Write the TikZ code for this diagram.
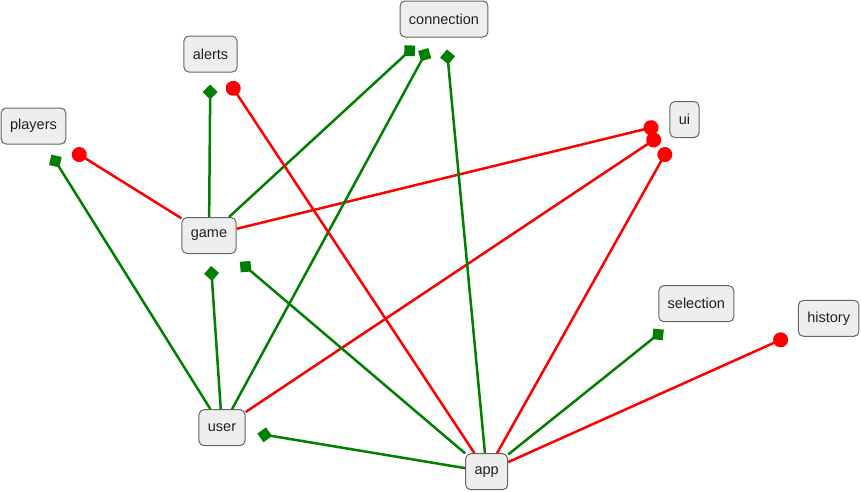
\documentclass[tikz,border=0pt]{standalone}
\usepackage{fontspec}
\setmainfont{Liberation Sans}
\usetikzlibrary{arrows.meta}
\definecolor{edgegreen}{HTML}{008000}
\definecolor{edgered}{HTML}{FF0000}
\definecolor{boxfill}{HTML}{EEEEEE}
\definecolor{boxline}{HTML}{666666}
\begin{document}
\begin{tikzpicture}[x=1pt,y=-1pt,
  box/.style={draw=boxline, line width=1pt, fill=boxfill, rounded corners=5pt,
    inner xsep=8.9pt, inner ysep=0pt, minimum height=36pt,
    font=\fontsize{14.5}{17}\selectfont, text=black!87},
  dep/.style={color=edgegreen, line width=2.5pt, shorten >=12pt,
    -{Turned Square[length=15pt,width=15pt]}},
  usel/.style={color=edgered, line width=2.5pt, shorten >=11.5pt,
    -{Circle[length=15pt]}}]
\useasboundingbox (0,0) rectangle (861,491);
\node[box] (connection) at (444,19) {connection};
\node[box] (alerts) at (210.5,54) {alerts};
\node[box] (players) at (33.5,126) {players};
\node[box] (ui) at (684.5,119.5) {ui};
\node[box] (game) at (209,235.5) {game};
\node[box] (selection) at (696.3,303.7) {selection};
\node[box] (history) at (828.7,318.3) {history};
\node[box] (user) at (222,427.7) {user};
\node[box] (app) at (486.7,471.7) {app};

\draw[dep] (game) -- (alerts);
\draw[dep] (game) -- (connection);
\draw[usel] (game) -- (players);
\draw[usel] (game) -- (ui);
\draw[dep] (user) -- (players);
\draw[dep] (user) -- (game);
\draw[dep] (user) -- (connection);
\draw[usel] (user) -- (ui);
\draw[dep] (app) -- (user);
\draw[dep] (app) -- (game);
\draw[usel] (app) -- (alerts);
\draw[dep] (app) -- (connection);
\draw[usel] (app) -- (ui);
\draw[dep] (app) -- (selection);
\draw[usel] (app) -- (history);
\end{tikzpicture}
\end{document}
